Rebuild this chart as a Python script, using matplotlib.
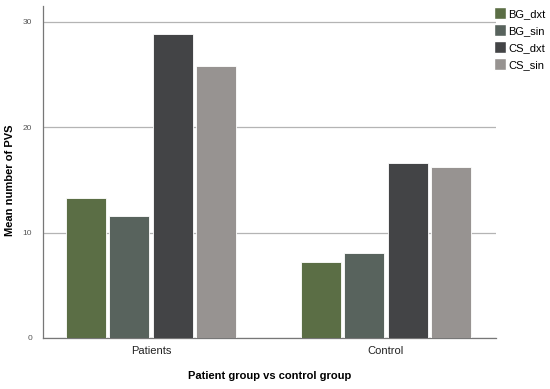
import matplotlib
matplotlib.use("Agg")
import matplotlib.pyplot as plt
import numpy as np
from matplotlib.patches import Patch

plt.rcParams['font.family'] = ['Liberation Sans', 'DejaVu Sans']

groups = ["Patients", "Control"]
series = ["BG_dxt", "BG_sin", "CS_dxt", "CS_sin"]
values = {
    "BG_dxt": [13.3, 7.25],
    "BG_sin": [11.6, 8.05],
    "CS_dxt": [28.8, 16.6],
    "CS_sin": [25.85, 16.2],
}
colors = ["#5b6e45", "#58635d", "#434446", "#979391"]
yticks = [0, 10, 20, 30]

fig = plt.figure(figsize=(5.5, 3.89), dpi=100)
ax = fig.add_axes([43/550, 1-338/389, (496-43)/550, (338-6)/389])

x = np.arange(len(groups))
step = 0.1853
width = 0.1704
for i, s in enumerate(series):
    ax.bar(x + (i - 1.5) * step, values[s], width=width, color=colors[i],
           edgecolor="white", linewidth=0.6, zorder=3)

ax.set_xlim(-0.461, 1.469)
ax.set_ylim(0, 31.5)
ax.set_yticks(yticks)
ax.set_yticklabels([str(t) for t in yticks], fontsize=6, color="#555555")
ax.set_xticks(x)
ax.set_xticklabels(groups, fontsize=8, color="#222222")
ax.tick_params(axis="x", length=0, pad=6)
ax.tick_params(axis="y", length=0, pad=8)
ax.yaxis.grid(True, color="#b4b4b4", linewidth=0.9, zorder=0)
for sp in ["top", "right"]:
    ax.spines[sp].set_visible(False)
for sp in ["left", "bottom"]:
    ax.spines[sp].set_color("#777777")
    ax.spines[sp].set_linewidth(0.9)

ax.set_ylabel("Mean number of PVS", fontsize=8, fontweight="bold")
ax.yaxis.set_label_coords(-0.062, 0.476)
ax.set_xlabel("Patient group vs control group", fontsize=8, fontweight="bold")
ax.xaxis.set_label_coords(0.5, -0.1)

handles = [Patch(facecolor=c, edgecolor="white") for c in colors]
fig.legend(handles, series, loc="upper left", bbox_to_anchor=(494/550, 1-7/389),
           frameon=False, fontsize=8, handlelength=1.1, handleheight=1.3,
           handletextpad=0.2, labelspacing=0.45, borderaxespad=0, borderpad=0)

fig.savefig("out.png", dpi=100)
